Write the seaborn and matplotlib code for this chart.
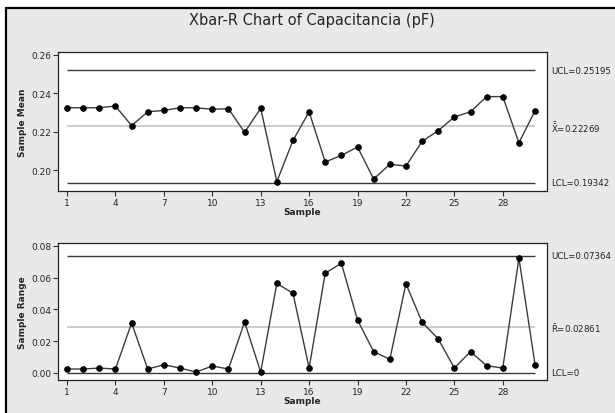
import matplotlib
matplotlib.use("Agg")
import matplotlib.pyplot as plt
import matplotlib.transforms as mtransforms
from matplotlib.lines import Line2D
from matplotlib.patches import Rectangle
import pandas as pd
import seaborn as sns

# -------------------------------
# Data
# -------------------------------
sample = list(range(1, 31))
sample_mean = [0.2324, 0.2324, 0.2324, 0.2333, 0.2231, 0.2303, 0.2310, 0.2324,
               0.2324, 0.2316, 0.2319, 0.2196, 0.2321, 0.1940, 0.2154, 0.2303,
               0.2042, 0.2076, 0.2120, 0.1953, 0.2030, 0.2021, 0.2149, 0.2205,
               0.2276, 0.2303, 0.2382, 0.2382, 0.2142, 0.2309]
sample_range = [0.0025, 0.0025, 0.0031, 0.0025, 0.0314, 0.0025, 0.0052, 0.0031,
                0.0006, 0.0044, 0.0025, 0.0320, 0.0006, 0.0563, 0.0501, 0.0031,
                0.0628, 0.0689, 0.0333, 0.0134, 0.0086, 0.0561, 0.0320, 0.0214,
                0.0031, 0.0134, 0.0046, 0.0031, 0.0722, 0.0052]

xbar_limits = [0.25195, 0.22269, 0.19342]   # UCL, center, LCL
r_limits = [0.07364, 0.02861, 0.0]
xbar_labels = ["UCL=0.25195", r"$\bar{\bar{X}}$=0.22269", "LCL=0.19342"]
r_labels = ["UCL=0.07364", r"$\bar{R}$=0.02861", "LCL=0"]
xticks = [1, 4, 7, 10, 13, 16, 19, 22, 25, 28]

df = pd.DataFrame({"Sample": sample, "Mean": sample_mean, "Range": sample_range})

# -------------------------------
# Style
# -------------------------------
sns.set_style("ticks")
plt.rcParams["font.family"] = ["DejaVu Sans"]
plt.rcParams["mathtext.default"] = "regular"

W, H = 615, 414
fig = plt.figure(figsize=(W / 100, H / 100), dpi=100, facecolor="white")

# grey panel with black frame on top/left
fig.add_artist(Rectangle((6 / W, 0), 1, 1 - 9 / H, transform=fig.transFigure,
                         facecolor="#e9e9e9", edgecolor="none", zorder=-5))
fig.add_artist(Line2D([6 / W, 6 / W], [0, 1 - 9 / H], transform=fig.transFigure,
                      color="black", lw=1.6))
fig.add_artist(Line2D([6 / W, 1], [1 - 9 / H, 1 - 9 / H], transform=fig.transFigure,
                      color="black", lw=1.6))

fig.text(312 / W, 1 - 21 / H, "Xbar-R Chart of Capacitancia (pF)",
         ha="center", va="center", fontsize=10.5)


def make_axes(top_px, bottom_px):
    return fig.add_axes([58 / W, 1 - bottom_px / H, (547 - 58) / W,
                         (bottom_px - top_px) / H])


def draw_panel(ax, ycol, limits, labels, ylim, yticks, ylabel):
    ax.set_facecolor("white")
    ucl, cl, lcl = limits
    ax.hlines([ucl, lcl], 1, 30, color="#3a3a3a", lw=1.0, zorder=1)
    ax.hlines(cl, 1, 30, color="#c4c4c4", lw=1.2, zorder=1)
    sns.lineplot(data=df, x="Sample", y=ycol, ax=ax, color="#3c3c3c", lw=1.0,
                 marker="o", markersize=4.0, markerfacecolor="black",
                 markeredgecolor="black", zorder=3)
    ax.set_xlim(0.44, 30.74)
    ax.set_ylim(*ylim)
    ax.set_xticks(xticks)
    ax.set_yticks(yticks)
    ax.set_yticklabels([f"{t:.2f}" for t in yticks])
    ax.tick_params(labelsize=6.5, length=3.5, width=0.8, pad=1.5, color="#333333")
    ax.set_xlabel("Sample", fontsize=6.5, fontweight="bold", labelpad=0)
    ax.set_ylabel(ylabel, fontsize=6.5, fontweight="bold", labelpad=3)
    for s in ax.spines.values():
        s.set_color("#222222")
        s.set_linewidth(0.9)
    trans = mtransforms.blended_transform_factory(ax.transAxes, ax.transData)
    for val, lab in zip(limits, labels):
        ax.text(1.009, val, lab, transform=trans, ha="left", va="center",
                fontsize=6.2, color="#222222")


ax1 = make_axes(53, 192)
draw_panel(ax1, "Mean", xbar_limits, xbar_labels, (0.1891, 0.2614),
           [0.20, 0.22, 0.24, 0.26], "Sample Mean")

ax2 = make_axes(244, 381)
draw_panel(ax2, "Range", r_limits, r_labels, (-0.0044, 0.0817),
           [0.00, 0.02, 0.04, 0.06, 0.08], "Sample Range")

plt.savefig("out.png", dpi=100)
plt.close()
